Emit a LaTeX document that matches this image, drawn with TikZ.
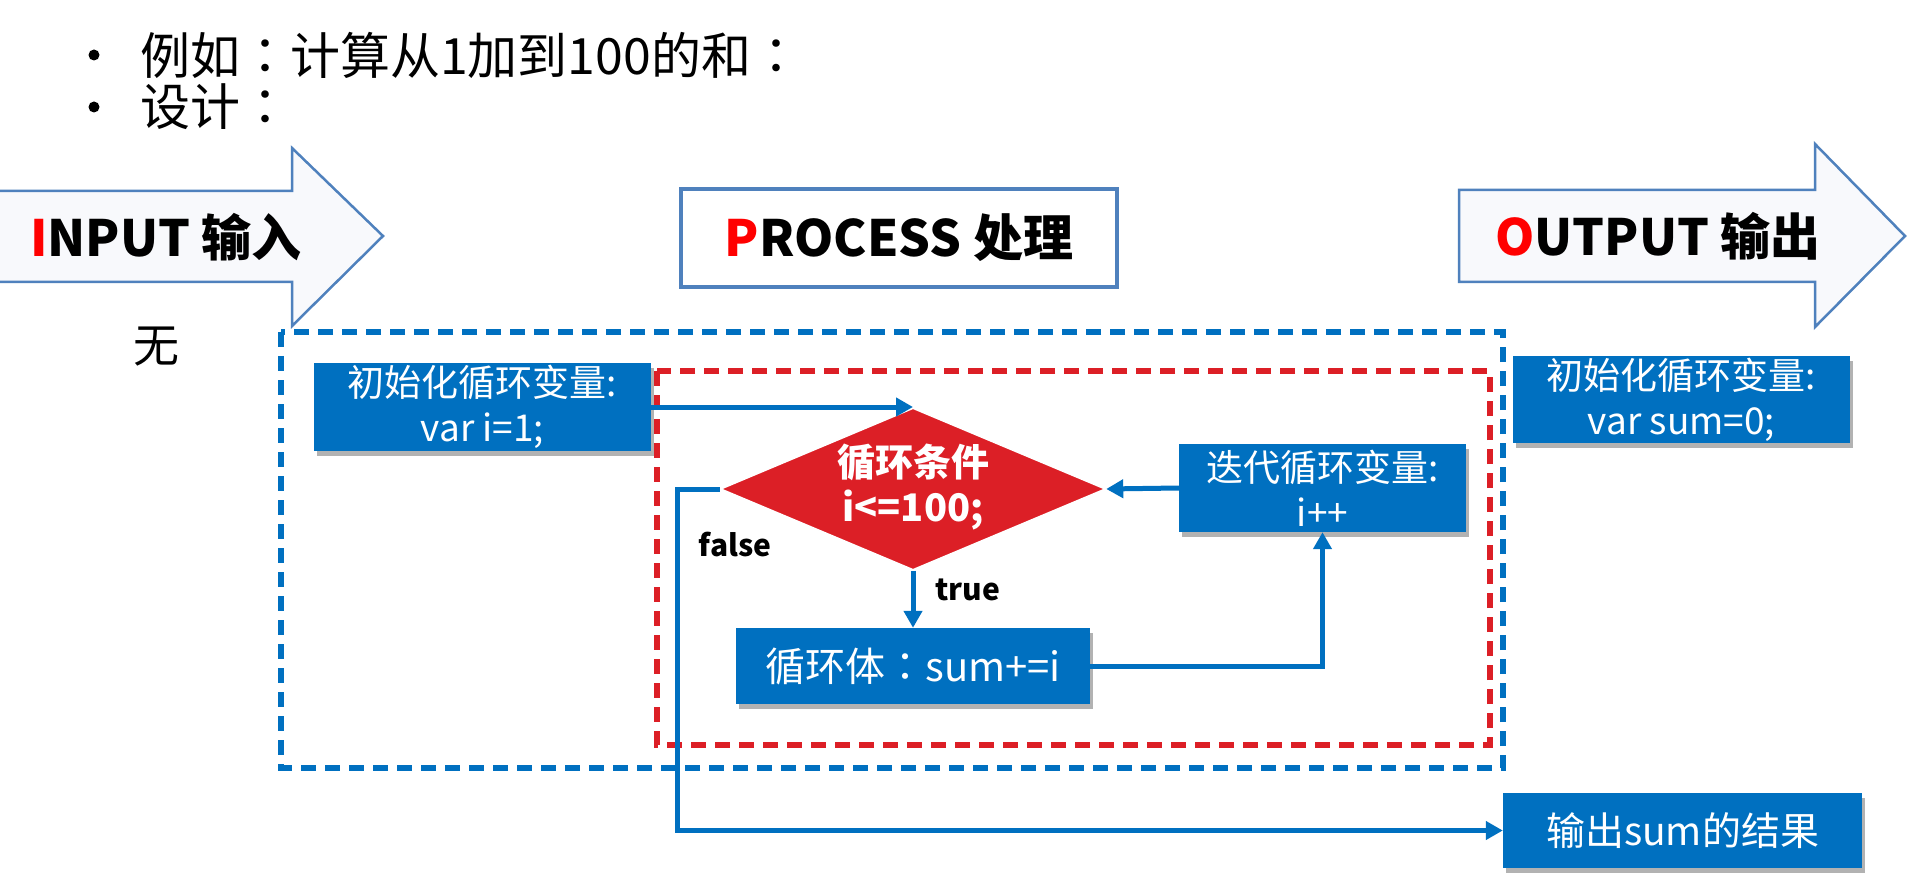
\documentclass[tikz,border=0pt]{standalone}
\usepackage{fontspec}
\setmainfont{Noto Sans CJK SC}
\newfontfamily\tcfont{Noto Sans CJK TC}
\newcommand{\cc}{{\tcfont ：}}
\usetikzlibrary{arrows.meta,shadows,shapes.geometric}
\definecolor{boxblue}{HTML}{0070C0}
\definecolor{dred}{HTML}{DC1F26}
\definecolor{arrowedge}{HTML}{4F81BD}
\definecolor{arrowfill}{HTML}{F8F9FC}
\definecolor{pred}{HTML}{FF0000}
\begin{document}
\begin{tikzpicture}[x=1pt,y=-1pt,
  bbox/.style={fill=boxblue, text=white, inner sep=0pt, align=center,
    font=\fontsize{37}{45}\selectfont,
    drop shadow={shadow xshift=3pt, shadow yshift=-5pt, opacity=0.3, fill=black}},
  conn/.style={draw=boxblue, line width=5pt, -{Triangle[length=17pt,width=18pt]}},
  bigarrow/.style={draw=arrowedge, fill=arrowfill, line width=2.5pt, line join=miter},
  headtxt/.style={font=\fontsize{50}{60}\selectfont\bfseries, inner sep=0pt},
  bullettxt/.style={font=\fontsize{50}{58}\selectfont, anchor=west, inner sep=0pt},
  bulletdot/.style={circle, fill=black, minimum size=11pt, inner sep=0pt},
  lbl/.style={font=\fontsize{30}{36}\selectfont\bfseries, inner sep=0pt},
  dashblue/.style={draw=boxblue, line width=6pt, dash pattern=on 15pt off 9pt},
  dashred/.style={draw=dred, line width=6pt, dash pattern=on 15pt off 9pt}]
\useasboundingbox (0,0) rectangle (1908,890);
\fill[white] (0,0) rectangle (1908,890);

% bullets
\node[bulletdot] (b1) at (94,55) {};
\node[bullettxt] (t1) at (140,55) {例如\cc 计算从1加到100的和\cc};
\node[bulletdot] (b2) at (94,107) {};
\node[bullettxt] (t2) at (140,107) {设计\cc};

% input arrow
\draw[bigarrow] (-2,191) -- (292,191) -- (292,148) -- (383,236) -- (292,326) -- (292,282) -- (-2,282) -- cycle;
\node[headtxt] (inp) at (166,237) {{\color{pred}I}NPUT 输入};

% process box
\node[draw=arrowedge, line width=4pt, fill=white, minimum width=436pt, minimum height=98pt, inner sep=0pt] (proc) at (899,238) {};
\node[headtxt] (proct) at (899,238) {{\color{pred}P}ROCESS 处理};

% output arrow
\draw[bigarrow] (1459,190) -- (1815,190) -- (1815,144) -- (1905,236) -- (1815,327) -- (1815,282) -- (1459,282) -- cycle;
\node[headtxt] (outp) at (1658,236) {{\color{pred}O}UTPUT 输出};

% none
\node[font=\fontsize{46}{54}\selectfont, inner sep=0pt] (none) at (156,347) {无};

% dashed frames
\draw[dashblue] (281,332) rectangle (1503,768);
\draw[dashred] (657,371) rectangle (1490,745);

% boxes
\node[bbox, minimum width=337pt, minimum height=88pt] (init) at (482.5,407) {初始化循环变量:\\var i=1;};
\node[bbox, minimum width=287pt, minimum height=88pt] (iter) at (1322.5,488) {迭代循环变量:\\i++};
\node[bbox, minimum width=354pt, minimum height=76pt, font=\fontsize{40}{46}\selectfont] (body) at (913,666) {循环体\cc sum+=i};
\node[bbox, minimum width=337pt, minimum height=87pt] (sum0) at (1681.5,399.5) {初始化循环变量:\\var sum=0;};
\node[bbox, minimum width=359pt, minimum height=75pt, font=\fontsize{39}{46}\selectfont] (out) at (1682.5,830.5) {输出sum的结果};

% diamond
\node[diamond, fill=dred, draw=white, line width=1.5pt, minimum width=385pt, minimum height=162pt, inner sep=0pt] (dia) at (913,489) {};
\node[font=\fontsize{38}{45}\selectfont\bfseries, text=white, align=center, inner sep=0pt] (diat) at (913,487) {循环条件\\i<=100;};

% connectors
\draw[conn] (init.east) -- (init.east -| dia.north);
\draw[conn] (iter.west) -- (dia.east);
\draw[conn] (dia.south) -- (body.north);
\draw[conn] (body.east) -| (iter.south);
\draw[conn] (dia.west) -- ++(-42,0) |- (out.west);

% labels
\node[lbl] (tl) at (968,590) {true};
\node[lbl] (fl) at (735,545) {false};
\end{tikzpicture}
\end{document}
